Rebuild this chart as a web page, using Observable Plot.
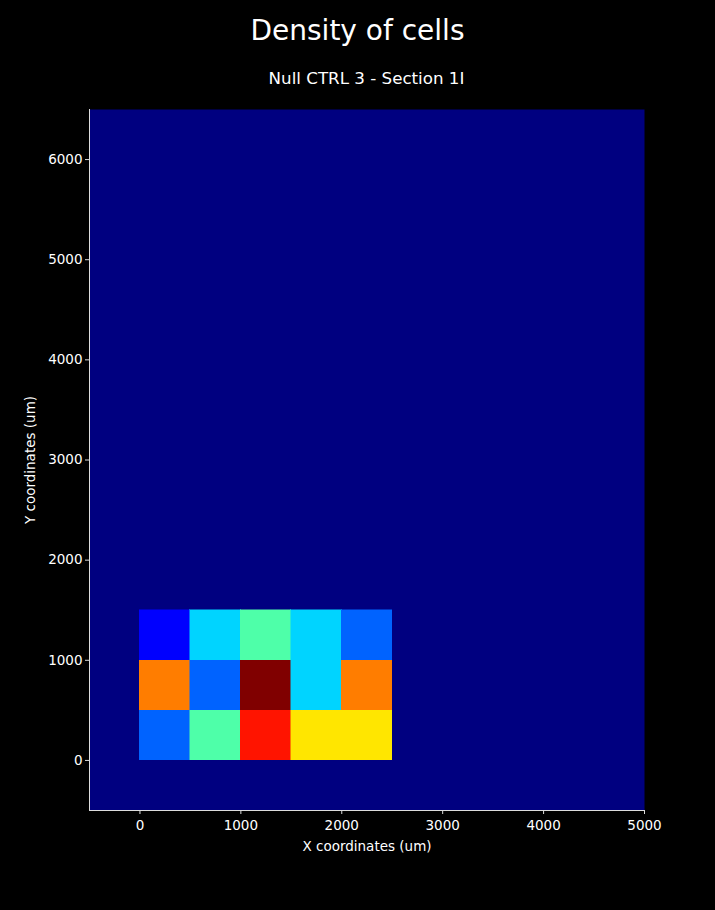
<!DOCTYPE html>
<html>
<head>
<meta charset="utf-8">
<script src="https://cdn.jsdelivr.net/npm/d3@7"></script>
<script src="https://cdn.jsdelivr.net/npm/@observablehq/plot@0.6"></script>
<style>
  html, body { margin: 0; padding: 0; background: #000; }
  #wrap { position: relative; width: 715px; height: 910px; background: #000; font-family: "DejaVu Sans", sans-serif; color: #fff; }
  #title { position: absolute; left: 0; width: 715px; top: 15px; text-align: center; font-size: 28px; line-height: 32px; }
  #subtitle { position: absolute; left: 89px; width: 555px; top: 68px; text-align: center; font-size: 16.7px; line-height: 20px; }
  #chart { position: absolute; left: 0; top: 0; }
  #chart text { font-family: "DejaVu Sans", sans-serif; }
</style>
</head>
<body>
<div id="wrap">
  <div id="chart"></div>
  <div id="title">Density of cells</div>
  <div id="subtitle">Null CTRL 3 - Section 1I</div>
</div>
<script>
// Bin edges (um) and cell counts per bin (rows bottom -> top)
const xEdges = [0, 500, 1000, 1500, 2000, 2500];
const yEdges = [0, 500, 1000, 1500];
const counts = [
  [2, 4, 8, 6, 6],   // y 0-500
  [7, 2, 9, 3, 7],   // y 500-1000
  [1, 3, 4, 3, 2]    // y 1000-1500
];
const xDomain = [-500, 5000];
const yDomain = [-500, 6500];
const xTicks = [0, 1000, 2000, 3000, 4000, 5000];
const yTicks = [0, 1000, 2000, 3000, 4000, 5000, 6000];

// matplotlib "jet" colormap
function jet(t) {
  t = Math.max(0, Math.min(1, t));
  const seg = (pts) => {
    for (let i = 1; i < pts.length; i++) {
      if (t <= pts[i][0]) {
        const [x0, y0] = pts[i - 1], [x1, y1] = pts[i];
        return y0 + (y1 - y0) * (t - x0) / (x1 - x0);
      }
    }
    return pts[pts.length - 1][1];
  };
  const r = seg([[0, 0], [0.35, 0], [0.66, 1], [0.89, 1], [1, 0.5]]);
  const g = seg([[0, 0], [0.125, 0], [0.375, 1], [0.64, 1], [0.91, 0], [1, 0]]);
  const b = seg([[0, 0.5], [0.11, 1], [0.34, 1], [0.65, 0], [1, 0]]);
  return d3.rgb(r * 255, g * 255, b * 255).formatHex();
}

const cells = [];
counts.forEach((row, j) => row.forEach((c, i) => {
  cells.push({x1: xEdges[i], x2: xEdges[i + 1], y1: yEdges[j], y2: yEdges[j + 1], count: c});
}));

const maxCount = d3.max(cells, d => d.count);

const chart = Plot.plot({
  width: 715,
  height: 910,
  marginLeft: 89,
  marginRight: 71,
  marginTop: 109,
  marginBottom: 100,
  style: { background: "#000", color: "#fff", fontFamily: "DejaVu Sans, sans-serif", fontSize: "13.5px" },
  x: { domain: xDomain },
  y: { domain: yDomain },
  marks: [
    Plot.frame({ fill: jet(0), stroke: "none" }),
    Plot.rect(cells, { x1: "x1", x2: "x2", y1: "y1", y2: "y2", fill: d => jet(d.count / maxCount),
      stroke: d => jet(d.count / maxCount), strokeWidth: 0.5, shapeRendering: "crispEdges" }),
    Plot.ruleX([xDomain[0]], { stroke: "#ddd", strokeWidth: 1 }),
    Plot.ruleY([yDomain[0]], { stroke: "#ddd", strokeWidth: 1 }),
    Plot.axisX({ ticks: xTicks, tickFormat: d => String(d), tickSize: 4, tickPadding: 6, stroke: "#ddd", fill: "#fff", fontSize: 13.5,
      label: "X coordinates (um)", labelAnchor: "center", labelOffset: 40, labelArrow: "none" }),
    Plot.axisY({ ticks: yTicks, tickFormat: d => String(d), tickSize: 4, tickPadding: 3, stroke: "#ddd", fill: "#fff", fontSize: 13.5,
      label: "Y coordinates (um)", labelAnchor: "center", labelOffset: 64, labelArrow: "none" })
  ]
});
document.getElementById("chart").appendChild(chart);
</script>
</body>
</html>
